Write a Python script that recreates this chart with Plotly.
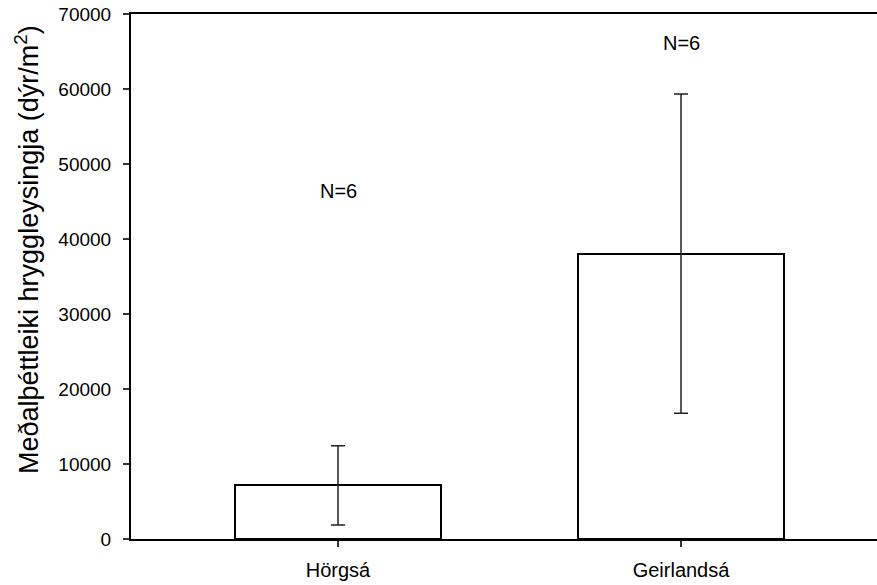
import plotly.graph_objects as go

# Mean invertebrate density per river, with standard deviation
rivers = ["Hörgsá", "Geirlandsá"]
mean_density = [7150, 38050]
sd_density = [5280, 21290]
n_labels = ["N=6", "N=6"]
n_label_y = [46440, 66130]
y_ticks = [0, 10000, 20000, 30000, 40000, 50000, 60000, 70000]

FONT = "Liberation Sans, Arial, sans-serif"
xpos = list(range(len(rivers)))

fig = go.Figure()
fig.add_trace(go.Bar(
    x=xpos,
    y=mean_density,
    width=0.6,
    marker=dict(color="white", line=dict(color="black", width=2)),
    error_y=dict(type="data", array=sd_density, visible=True,
                 color="#222222", thickness=1.5, width=7),
    showlegend=False,
))

for xi, txt, yv in zip(xpos, n_labels, n_label_y):
    fig.add_annotation(x=xi, y=yv, text=txt, showarrow=False,
                       xref="x", yref="y", xanchor="center", yanchor="middle",
                       font=dict(family=FONT, size=20, color="black"))

fig.add_annotation(
    text="Meðalþéttleiki hryggleysingja (dýr/m<sup>2</sup>)",
    xref="paper", yref="paper", x=-0.1394, y=0.5505,
    textangle=-90, showarrow=False, xanchor="center", yanchor="middle",
    font=dict(family=FONT, size=27, color="black"),
)

fig.update_layout(
    width=877, height=585,
    margin=dict(l=131, r=0, t=14, b=46),
    paper_bgcolor="white", plot_bgcolor="white",
    font=dict(family=FONT, color="black"),
    bargap=0,
)
fig.update_xaxes(
    range=[-0.6035, 1.5714],
    tickmode="array", tickvals=xpos, ticktext=rivers,
    showline=True, linecolor="black", linewidth=2, mirror=True,
    ticks="outside", ticklen=6, tickwidth=1.5, tickcolor="#333333",
    tickfont=dict(family=FONT, size=20, color="black"),
    ticklabelstandoff=6,
    showgrid=False, zeroline=False,
)
fig.update_yaxes(
    range=[0, 70000],
    tickmode="array", tickvals=y_ticks, ticktext=[str(v) for v in y_ticks],
    showline=True, linecolor="black", linewidth=2,
    ticks="outside", ticklen=6, tickwidth=1.5, tickcolor="#333333",
    tickfont=dict(family=FONT, size=19, color="black"),
    ticklabelstandoff=8,
    showgrid=False, zeroline=False,
)

fig.write_html("out.html")
